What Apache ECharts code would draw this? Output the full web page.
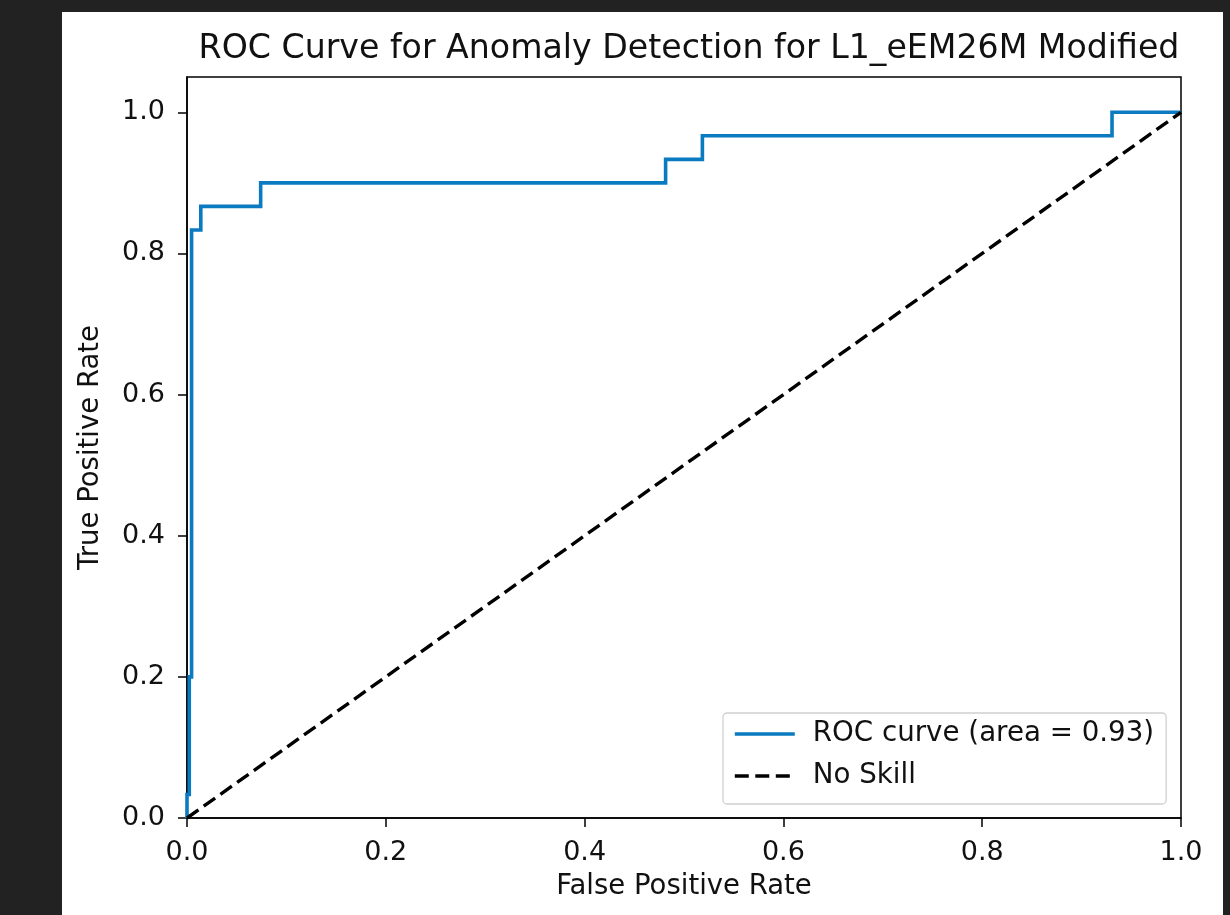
<!DOCTYPE html>
<html>
<head>
<meta charset="utf-8">
<script src="https://cdn.jsdelivr.net/npm/echarts@6/dist/echarts.min.js"></script>
<style>
  html, body { margin: 0; padding: 0; background: #222222; width: 1230px; height: 915px; overflow: hidden; }
  #chart { position: absolute; left: 62px; top: 12px; width: 1161px; height: 903px; background: #ffffff; }
</style>
</head>
<body>
<div id="chart"></div>
<script>
// ROC curve points (false positive rate, true positive rate)
const fpr = [0, 0, 0.0023, 0.0023, 0.0046, 0.0046, 0.0139, 0.0139, 0.0741, 0.0741, 0.4815, 0.4815, 0.5185, 0.5185, 0.9306, 0.9306, 1.0];
const tpr = [0, 0.0333, 0.0333, 0.2, 0.2, 0.8333, 0.8333, 0.8667, 0.8667, 0.9, 0.9, 0.9333, 0.9333, 0.9667, 0.9667, 1.0, 1.0];
const aucValue = 0.93;

// Diagonal reference line
const noSkillX = [0, 1];
const noSkillY = [0, 1];

const tickValues = [0, 0.2, 0.4, 0.6, 0.8, 1.0];

const FONT = 'DejaVu Sans';
const TXT = '#111111';

const chart = echarts.init(document.getElementById('chart'), null, { renderer: 'canvas' });

const rocName = 'ROC curve (area = ' + aucValue.toFixed(2) + ')';

chart.setOption({
  animation: false,
  backgroundColor: '#ffffff',
  title: {
    text: 'ROC Curve for Anomaly Detection for L1_eEM26M Modified',
    left: 622,
    textAlign: 'center',
    top: 16,
    textStyle: { fontFamily: FONT, fontSize: 33.2, fontWeight: 'normal', color: TXT }
  },
  grid: {
    left: 125, right: 42, top: 65, bottom: 97,
    show: true, borderColor: '#000', borderWidth: 1.5, backgroundColor: 'transparent'
  },
  legend: {
    orient: 'vertical',
    left: 661,
    top: 701,
    itemWidth: 60,
    itemHeight: 0.1,
    itemGap: 12,
    padding: [6, 12, 13, 10],
    borderColor: '#d0d0d0',
    borderWidth: 1.3,
    borderRadius: 4,
    backgroundColor: '#ffffff',
    lineStyle: { width: 3.6 },
    textStyle: { fontFamily: FONT, fontSize: 27.7, color: TXT, lineHeight: 30, padding: [0, 0, 0, 13] },
    data: [rocName, 'No Skill']
  },
  xAxis: {
    type: 'value',
    min: 0, max: 1, interval: 0.2,
    name: 'False Positive Rate',
    nameLocation: 'middle',
    nameGap: 55,
    nameTextStyle: { fontFamily: FONT, fontSize: 27.5, color: TXT },
    axisLine: { show: true, onZero: false, lineStyle: { color: '#000', width: 1.5 } },
    axisTick: { show: true, length: 9, lineStyle: { color: '#000', width: 1.5 } },
    axisLabel: { fontFamily: FONT, fontSize: 27, color: TXT, margin: 21, formatter: v => v.toFixed(1) },
    splitLine: { show: false }
  },
  yAxis: {
    type: 'value',
    min: 0, max: 1.05,
    name: 'True Positive Rate',
    nameLocation: 'middle',
    nameGap: 82,
    nameTextStyle: { fontFamily: FONT, fontSize: 27.5, color: TXT },
    axisLine: { show: true, onZero: false, lineStyle: { color: '#000', width: 1.5 } },
    axisTick: { show: true, length: 9, customValues: tickValues, lineStyle: { color: '#000', width: 1.5 } },
    axisLabel: { fontFamily: FONT, fontSize: 27, color: TXT, margin: 22, customValues: tickValues, formatter: v => v.toFixed(1) },
    splitLine: { show: false }
  },
  series: [
    {
      name: rocName,
      type: 'line',
      symbol: 'none',
      z: 3,
      lineStyle: { color: '#0a7bc1', width: 3.6, join: 'miter', cap: 'butt' },
      itemStyle: { color: '#0a7bc1' },
      data: fpr.map((x, i) => [x, tpr[i]])
    },
    {
      name: 'No Skill',
      type: 'line',
      symbol: 'none',
      z: 4,
      lineStyle: { color: '#000000', width: 3.4, type: [14, 6.5] },
      itemStyle: { color: '#000000' },
      data: noSkillX.map((x, i) => [x, noSkillY[i]])
    }
  ]
});
</script>
</body>
</html>
